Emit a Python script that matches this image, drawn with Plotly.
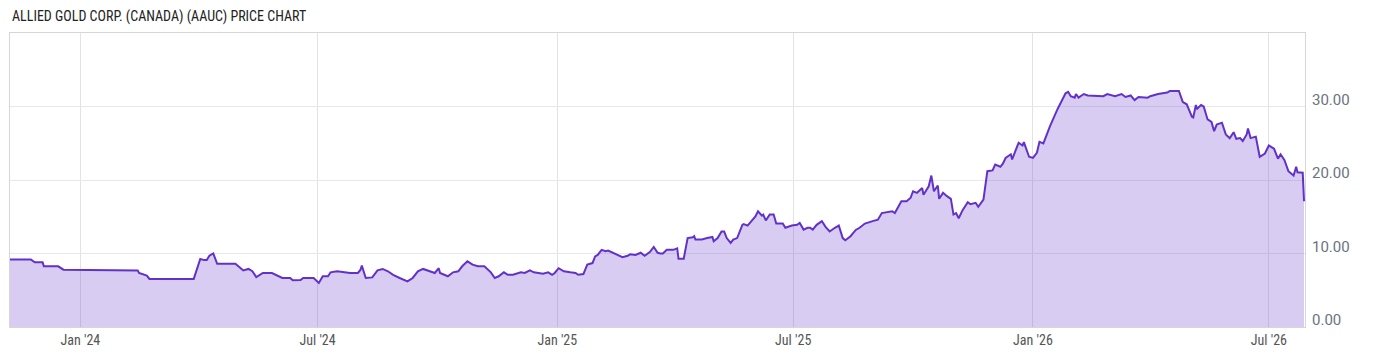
import plotly.graph_objects as go

title_text = "ALLIED GOLD CORP. (CANADA) (AAUC) PRICE CHART"

dates = [
    "2023-11-08", "2023-11-24", "2023-11-27", "2023-12-03", "2023-12-04", "2023-12-15", "2023-12-19",
    "2024-01-29", "2024-02-01", "2024-02-14", "2024-02-15", "2024-02-21", "2024-02-23", "2024-03-28",
    "2024-04-02", "2024-04-05", "2024-04-07", "2024-04-09", "2024-04-12", "2024-04-15", "2024-04-29",
    "2024-05-01", "2024-05-05", "2024-05-09", "2024-05-12", "2024-05-15", "2024-05-17", "2024-05-20",
    "2024-05-27", "2024-05-30", "2024-06-04", "2024-06-10", "2024-06-12", "2024-06-18", "2024-06-20",
    "2024-06-28", "2024-07-02", "2024-07-05", "2024-07-09", "2024-07-11", "2024-07-16", "2024-07-26",
    "2024-08-01", "2024-08-03", "2024-08-04", "2024-08-07", "2024-08-12", "2024-08-16", "2024-08-20",
    "2024-08-24", "2024-08-28", "2024-09-02", "2024-09-08", "2024-09-12", "2024-09-16", "2024-09-20",
    "2024-09-26", "2024-09-29", "2024-10-02", "2024-10-03", "2024-10-09", "2024-10-13", "2024-10-17",
    "2024-10-20", "2024-10-24", "2024-10-28", "2024-11-01", "2024-11-06", "2024-11-11", "2024-11-14",
    "2024-11-17", "2024-11-21", "2024-11-24", "2024-11-28", "2024-12-04", "2024-12-07", "2024-12-11",
    "2024-12-14", "2024-12-21", "2024-12-25", "2024-12-28", "2024-12-30", "2025-01-02", "2025-01-06",
    "2025-01-11", "2025-01-15", "2025-01-17", "2025-01-21", "2025-01-24", "2025-01-28", "2025-01-30",
    "2025-02-01", "2025-02-04", "2025-02-07", "2025-02-09", "2025-02-13", "2025-02-16", "2025-02-20",
    "2025-02-24", "2025-02-26", "2025-03-02", "2025-03-06", "2025-03-09", "2025-03-13", "2025-03-16",
    "2025-03-19", "2025-03-21", "2025-03-23", "2025-03-26", "2025-03-31", "2025-04-03", "2025-04-04",
    "2025-04-08", "2025-04-11", "2025-04-15", "2025-04-16", "2025-04-17", "2025-04-22", "2025-04-26",
    "2025-04-30", "2025-05-01", "2025-05-04", "2025-05-07", "2025-05-09", "2025-05-11", "2025-05-14",
    "2025-05-16", "2025-05-19", "2025-05-23", "2025-05-24", "2025-05-27", "2025-05-30", "2025-06-02",
    "2025-06-04", "2025-06-07", "2025-06-08", "2025-06-10", "2025-06-13", "2025-06-16", "2025-06-18",
    "2025-06-23", "2025-06-25", "2025-06-30", "2025-07-04", "2025-07-06", "2025-07-09", "2025-07-12",
    "2025-07-14", "2025-07-16", "2025-07-19", "2025-07-23", "2025-07-26", "2025-07-29", "2025-08-02",
    "2025-08-05", "2025-08-08", "2025-08-10", "2025-08-14", "2025-08-18", "2025-08-21", "2025-08-25",
    "2025-08-31", "2025-09-04", "2025-09-07", "2025-09-11", "2025-09-15", "2025-09-17", "2025-09-22",
    "2025-09-26", "2025-09-29", "2025-10-01", "2025-10-04", "2025-10-08", "2025-10-09", "2025-10-13",
    "2025-10-15", "2025-10-17", "2025-10-20", "2025-10-21", "2025-10-24", "2025-10-27", "2025-10-30",
    "2025-11-01", "2025-11-03", "2025-11-05", "2025-11-08", "2025-11-12", "2025-11-14", "2025-11-18",
    "2025-11-20", "2025-11-24", "2025-11-27", "2025-12-01", "2025-12-03", "2025-12-07", "2025-12-09",
    "2025-12-11", "2025-12-15", "2025-12-16", "2025-12-18", "2025-12-21", "2025-12-24", "2025-12-25",
    "2025-12-29", "2026-01-01", "2026-01-04", "2026-01-06", "2026-01-09", "2026-01-14", "2026-01-20",
    "2026-01-23", "2026-01-26", "2026-01-28", "2026-01-30", "2026-02-02", "2026-02-03", "2026-02-05",
    "2026-02-09", "2026-02-12", "2026-02-19", "2026-02-24", "2026-02-27", "2026-03-05", "2026-03-10",
    "2026-03-13", "2026-03-17", "2026-03-20", "2026-03-23", "2026-03-30", "2026-04-01", "2026-04-07",
    "2026-04-14", "2026-04-16", "2026-04-23", "2026-04-26", "2026-04-29", "2026-05-03", "2026-05-04",
    "2026-05-06", "2026-05-07", "2026-05-10", "2026-05-12", "2026-05-15", "2026-05-18", "2026-05-20",
    "2026-05-22", "2026-05-26", "2026-05-29", "2026-06-01", "2026-06-04", "2026-06-06", "2026-06-09",
    "2026-06-11", "2026-06-14", "2026-06-15", "2026-06-17", "2026-06-21", "2026-06-24", "2026-06-28",
    "2026-07-01", "2026-07-05", "2026-07-08", "2026-07-10", "2026-07-13", "2026-07-16", "2026-07-20",
    "2026-07-22", "2026-07-23", "2026-07-27", "2026-07-28",
]

prices = [
    9.2, 9.2, 8.8, 8.8, 8.26, 8.26, 7.8,
    7.8, 7.72, 7.7, 7.35, 7.0, 6.54, 6.54,
    9.26, 9.1, 9.1, 9.7, 10.0, 8.6, 8.6,
    8.26, 7.7, 7.9, 7.6, 6.8, 7.0, 7.35,
    7.35, 7.1, 6.67, 6.67, 6.35, 6.4, 6.67,
    6.67, 6.0, 6.9, 6.9, 7.44, 7.58, 7.35,
    7.35, 7.8, 8.35, 6.67, 6.75, 7.7, 7.9,
    7.58, 7.1, 6.67, 6.2, 6.67, 7.58, 7.9,
    7.58, 7.35, 8.0, 7.35, 6.9, 7.44, 7.58,
    8.26, 8.94, 8.49, 8.26, 8.26, 7.44, 6.67,
    6.9, 7.44, 7.1, 7.1, 7.44, 7.35, 7.7,
    7.44, 7.26, 7.44, 7.1, 7.35, 8.0, 7.58,
    7.44, 7.35, 7.1, 7.2, 8.49, 8.7, 9.6,
    9.8, 10.5, 10.3, 10.4, 10.1, 9.9, 9.5,
    9.7, 9.9, 9.8, 10.1, 9.7, 10.2, 10.9,
    10.1, 10.0, 10.0, 10.5, 10.5, 10.7, 9.3,
    9.3, 12.1, 12.2, 12.35, 11.9, 11.9, 12.1,
    12.25, 11.66, 12.1, 13.0, 13.0, 12.1, 11.44,
    11.9, 12.1, 13.9, 14.0, 13.8, 14.5, 15.05,
    15.75, 15.15, 15.3, 14.5, 15.3, 15.3, 14.07,
    14.07, 13.5, 13.8, 13.9, 14.15, 13.25, 13.5,
    13.5, 13.25, 13.9, 14.4, 13.6, 13.0, 13.5,
    13.8, 12.1, 11.8, 12.35, 13.2, 13.5, 14.07,
    14.4, 14.6, 15.5, 15.6, 15.75, 15.5, 17.1,
    17.1, 17.55, 18.47, 18.25, 18.9, 18.0, 19.15,
    20.6, 18.47, 19.25, 17.44, 18.25, 17.8, 17.44,
    15.3, 15.5, 14.8, 15.9, 16.97, 16.7, 16.9,
    16.35, 17.33, 21.2, 21.3, 22.1, 21.8, 22.25,
    23.0, 23.5, 22.8, 23.8, 25.07, 24.7, 25.15,
    23.16, 23.0, 23.7, 25.2, 24.97, 27.3, 29.7,
    30.87, 31.8, 32.0, 31.4, 31.2, 31.7, 31.2,
    31.7, 31.5, 31.4, 31.4, 31.7, 31.4, 31.7,
    31.3, 31.5, 30.87, 31.3, 31.2, 31.4, 31.7,
    31.9, 32.1, 32.1, 30.6, 30.3, 28.6, 28.5,
    30.2, 29.7, 30.2, 30.0, 28.24, 27.9, 26.65,
    27.55, 27.8, 26.2, 25.7, 26.5, 25.6, 25.7,
    25.3, 26.2, 27.0, 25.7, 25.9, 23.16, 23.6,
    24.7, 24.25, 22.9, 23.5, 22.7, 21.2, 20.6,
    21.8, 21.06, 21.0, 17.1,
]

x_range = ["2023-11-08", "2026-07-28 18:00"]
y_range = [0, 40]
y_ticks = [0, 10, 20, 30]

font_family = "Roboto Condensed, DejaVu Sans Condensed, Liberation Sans Narrow, Roboto, sans-serif"

fig = go.Figure()
fig.add_trace(go.Scatter(
    x=dates, y=prices, mode="lines",
    line=dict(color="#6232c8", width=2),
    fill="tozeroy", fillcolor="rgba(102,51,204,0.25)",
    hoverinfo="skip", showlegend=False,
))

# label-only overlay axis: tick labels sit slightly above their gridlines
label_shift = 0.95
fig.add_trace(go.Scatter(
    x=[dates[0]], y=[None], yaxis="y2", mode="lines",
    hoverinfo="skip", showlegend=False,
))

fig.update_layout(
    width=1400, height=357,
    margin=dict(l=10, r=95, t=33, b=30),
    paper_bgcolor="white", plot_bgcolor="white",
    font=dict(family=font_family, color="#555"),
    annotations=[dict(
        text=title_text, xref="paper", yref="paper", x=0, y=1 + 17 / 294,
        xanchor="left", yanchor="middle", showarrow=False,
        font=dict(family=font_family, size=14, color="#222"),
    )],
    yaxis2=dict(
        overlaying="y", side="right", range=y_range,
        tickvals=[v + label_shift for v in y_ticks],
        ticktext=[f"{v:.2f}" for v in y_ticks],
        showgrid=False, zeroline=False, showline=False, ticks="",
        ticklabelstandoff=6,
        tickfont=dict(size=15, color="#6b7280", family="Roboto"),
    ),
)
fig.update_xaxes(
    type="date", range=x_range, tick0="2024-01-01", dtick="M6", tickformat="%b '%y",
    showgrid=True, gridcolor="#e3e3e3", gridwidth=1,
    showline=True, linecolor="#d6d6d6", linewidth=1, mirror=True,
    ticks="", tickfont=dict(size=14, color="#555"), zeroline=False,
)
fig.update_yaxes(
    selector=dict(anchor="x"),
)
fig.layout.yaxis.update(
    range=y_range, tickvals=y_ticks, showticklabels=False, side="right",
    showgrid=True, gridcolor="#e8e8e8", gridwidth=1,
    showline=True, linecolor="#d6d6d6", linewidth=1, mirror=True,
    ticks="", zeroline=False,
)

fig.write_html("out.html")
